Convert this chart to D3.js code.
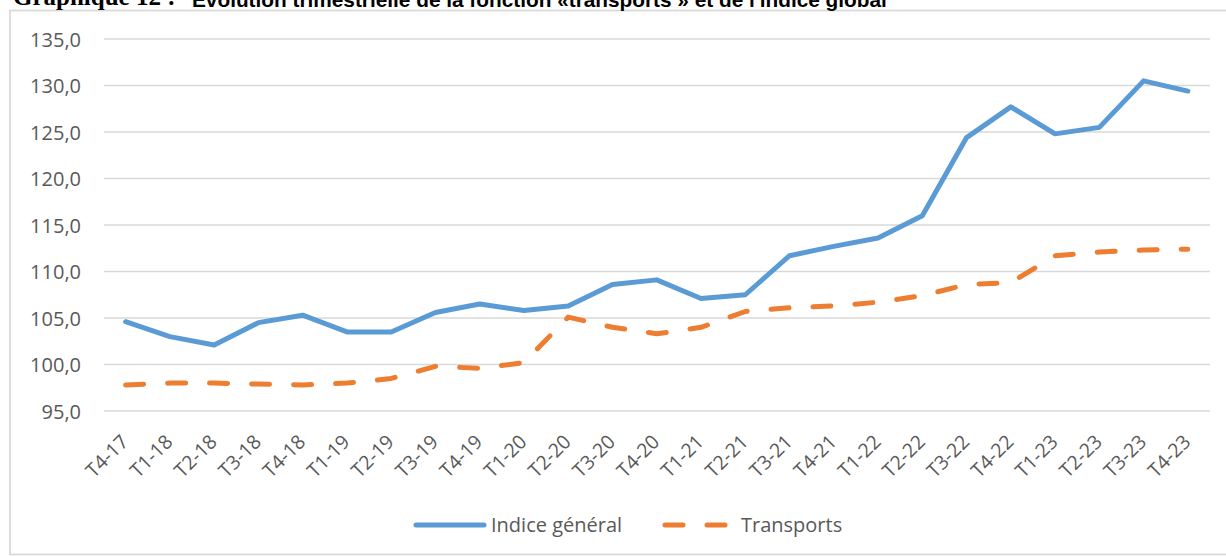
<!DOCTYPE html>
<html>
<head>
<meta charset="utf-8">
<script src="https://cdn.jsdelivr.net/npm/d3@7/dist/d3.min.js"></script>
<style>
  html, body { margin: 0; padding: 0; background: #fff; }
  svg { display: block; }
</style>
</head>
<body>
<svg id="chart" width="1226" height="556"></svg>
<script>
const categories = ["T4-17","T1-18","T2-18","T3-18","T4-18","T1-19","T2-19","T3-19","T4-19","T1-20","T2-20","T3-20","T4-20","T1-21","T2-21","T3-21","T4-21","T1-22","T2-22","T3-22","T4-22","T1-23","T2-23","T3-23","T4-23"];
const indiceGeneral = [104.6,103.0,102.1,104.5,105.3,103.5,103.5,105.6,106.5,105.8,106.3,108.6,109.1,107.1,107.5,111.7,112.7,113.6,116.0,124.4,127.7,124.8,125.5,130.5,129.4];
const transports = [97.8,98.0,98.0,97.9,97.8,98.0,98.5,99.8,99.6,100.2,105.1,104.0,103.3,104.0,105.7,106.1,106.3,106.7,107.4,108.6,108.8,111.7,112.1,112.3,112.4];
const yTicks = [95,100,105,110,115,120,125,130,135];
const seriesNames = ["Indice général","Transports"];

const svg = d3.select("#chart");
const blue = "#5B9BD5", orange = "#ED7D31";

// frame
svg.append("rect").attr("x",10).attr("y",10.5).attr("width",1240).attr("height",544)
  .attr("fill","none").attr("stroke","#d9d9d9").attr("stroke-width",1.8);

// title (partly cut at top, as in the source)
svg.append("text").attr("x",13).attr("y",5)
  .attr("font-family","'Liberation Serif', 'Times New Roman', serif").attr("font-weight","bold")
  .attr("font-size",25).attr("fill","#000").text("Graphique 12 :");
svg.append("text").attr("x",192).attr("y",6.5)
  .attr("font-family","'Liberation Sans', Arial, sans-serif").attr("font-weight","bold")
  .attr("font-size",20.8).attr("fill","#000")
  .text("Évolution trimestrielle de la fonction «transports » et de l'indice global");

const x = d3.scaleBand().domain(categories).range([103.5, 1210]);
const y = d3.scaleLinear().domain([95,135]).range([411, 39]);
const cx = d => x(d) + x.bandwidth()/2;

// gridlines
svg.append("g").selectAll("line").data(yTicks).join("line")
  .attr("x1",104).attr("x2",1210)
  .attr("y1",d=>y(d)).attr("y2",d=>y(d))
  .attr("stroke","#d9d9d9").attr("stroke-width",1.4);

// y axis labels
const yAxis = d3.axisLeft(y).tickValues(yTicks)
  .tickFormat(d => d3.format(".1f")(d).replace(".", ","))
  .tickSize(0).tickPadding(0);
const gy = svg.append("g").attr("transform","translate(81,0)").call(yAxis);
gy.select(".domain").remove();
gy.selectAll("text").attr("font-family","'Open Sans', sans-serif").attr("font-size",20)
  .attr("fill","#595959").attr("dy","0.36em");

// x axis labels
const xAxis = d3.axisBottom(x).tickSize(0).tickPadding(0);
const gx = svg.append("g").call(xAxis);
gx.select(".domain").remove();
gx.selectAll(".tick").attr("transform", d => `translate(${cx(d)+4},443)`);
gx.selectAll("text").attr("font-family","'Open Sans', sans-serif").attr("font-size",19.5)
  .attr("fill","#595959").attr("text-anchor","end").attr("dy",0).attr("y",0)
  .attr("transform","rotate(-45)");

// lines
const line = d3.line().x((d,i)=>cx(categories[i])).y(d=>y(d));
svg.append("path").datum(indiceGeneral).attr("d",line)
  .attr("fill","none").attr("stroke",blue).attr("stroke-width",5)
  .attr("stroke-linejoin","round").attr("stroke-linecap","round");
svg.append("path").datum(transports).attr("d",line)
  .attr("fill","none").attr("stroke",orange).attr("stroke-width",5)
  .attr("stroke-dasharray","18,24").attr("stroke-linejoin","round").attr("stroke-linecap","round");

// legend
const lg = svg.append("g");
lg.append("line").attr("x1",416).attr("x2",484).attr("y1",525).attr("y2",525)
  .attr("stroke",blue).attr("stroke-width",5).attr("stroke-linecap","round");
lg.append("text").attr("x",491).attr("y",525).attr("dy","0.36em")
  .attr("font-family","'Open Sans', sans-serif").attr("font-size",20).attr("fill","#595959")
  .text(seriesNames[0]);
lg.append("line").attr("x1",665).attr("x2",727).attr("y1",525).attr("y2",525)
  .attr("stroke",orange).attr("stroke-width",5).attr("stroke-linecap","round")
  .attr("stroke-dasharray","18,24");
lg.append("text").attr("x",741).attr("y",525).attr("dy","0.36em")
  .attr("font-family","'Open Sans', sans-serif").attr("font-size",20).attr("fill","#595959")
  .text(seriesNames[1]);
</script>
</body>
</html>
